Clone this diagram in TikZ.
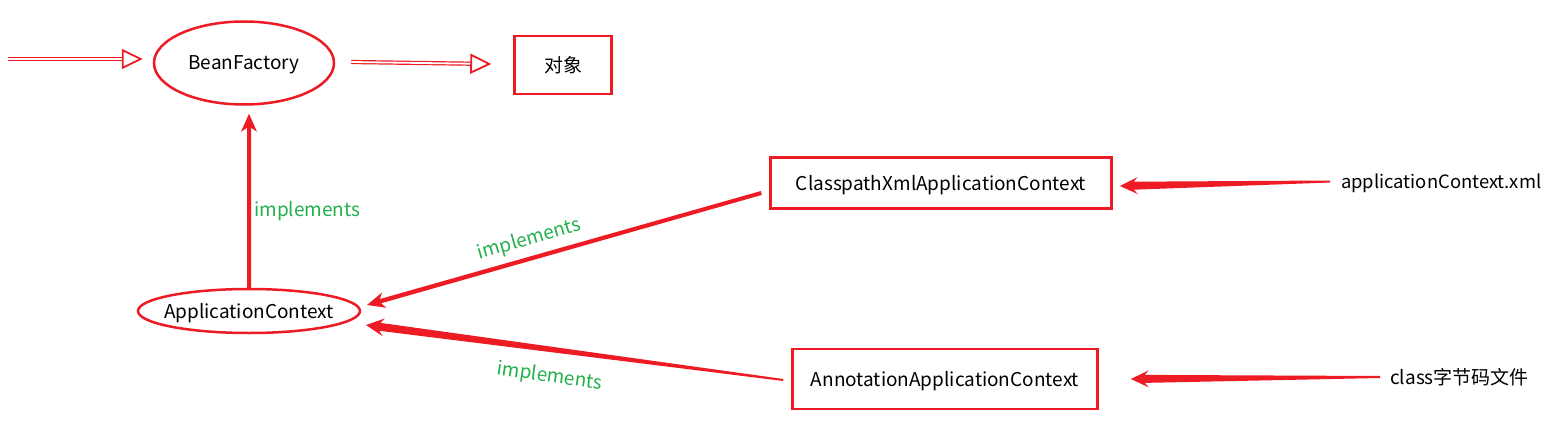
\documentclass[tikz,border=0pt]{standalone}
\usepackage{fontspec}
\setmainfont{Noto Sans CJK SC}
\usetikzlibrary{arrows.meta,shapes.geometric,calc}
\definecolor{pred}{RGB}{237,28,36}
\definecolor{pgreen}{RGB}{34,177,76}
% tapered filled arrow: #1 tail, #2 tip, #3 tail half width, #4 neck half width, #5 head half width
\newcommand\taperarrow[5]{%
  \path ($(#2)!18pt!(#1)$) coordinate (tneck) ($(#2)!14pt!(#1)$) coordinate (tbarb);
  \fill[pred] ($(#1)!#3!90:(tneck)$) -- ($(tbarb)!#4!-90:(#1)$) -- ($(tneck)!#5!-90:(#1)$)
    -- (#2) -- ($(tneck)!#5!90:(#1)$) -- ($(tbarb)!#4!90:(#1)$) -- ($(#1)!#3!-90:(tneck)$) -- cycle;}
\begin{document}
\begin{tikzpicture}[x=1pt,y=-1pt,
  font=\fontsize{19}{22}\selectfont,
  txt/.style={text height=14pt, text depth=0pt},
  ell/.style={ellipse, draw=pred, line width=2.5pt, inner ysep=0pt, inner xsep=-7pt, txt},
  rbox/.style={rectangle, draw=pred, line width=2.5pt, inner sep=0pt, txt},
  hollowarrow/.style={draw=pred, line width=1.2pt, double=white, double distance=1.8pt,
     -{Triangle[open,length=21pt,width=20pt,line width=1.8pt]}},
  lbl/.style={text=pgreen, inner sep=0pt, txt}]
\useasboundingbox (0,0) rectangle (1544,428);
\fill[white] (0,0) rectangle (1544,428);

\node[ell, minimum width=180pt, minimum height=83pt] (bf) at (244,63) {BeanFactory};
\node[rbox, minimum width=97pt, minimum height=58pt] (obj) at (563,65) {对象};
\node[ell, minimum width=222pt, minimum height=44pt] (ac) at (249,311) {ApplicationContext};
\node[rbox, minimum width=341pt, minimum height=51pt] (cx) at (941,183) {ClasspathXmlApplicationContext};
\node[rbox, minimum width=305pt, minimum height=60pt] (an) at (945,379) {AnnotationApplicationContext};
\node[anchor=west, inner sep=0pt, txt, font=\fontsize{18.4}{22}\selectfont] (xml) at (1341,181.5) {applicationContext.xml};
\node[anchor=west, inner sep=0pt, txt] (cls) at (1390,377) {class字节码文件};

% hollow arrows (note: xshift/yshift act on the canvas, where up is positive)
\coordinate (lin) at (8,59);
\draw[hollowarrow] (lin) -- ([xshift=-10pt,yshift=4pt]bf.west);
\draw[hollowarrow] ([xshift=16pt,yshift=1pt]bf.east) -- ([xshift=-22pt,yshift=1pt]obj.west);

% ApplicationContext -> BeanFactory
\path (ac.north) coordinate (vtail) (ac.north |- bf.south) ++(0,8) coordinate (vtip);
\taperarrow{vtail}{vtip}{2pt}{2pt}{8pt}
\node[lbl, anchor=west] (l1) at (254,209) {implements};

% Classpath -> ApplicationContext
\path ([xshift=-8pt,yshift=-10pt]cx.west) coordinate (ctail) ([xshift=118pt,yshift=6pt]ac.center) coordinate (ctip);
\taperarrow{ctail}{ctip}{2pt}{2.2pt}{8pt}
\node[lbl, rotate=16] (l2) at (529,238) {implements};

% Annotation -> ApplicationContext
\path ([xshift=-8pt,yshift=-1pt]an.west) coordinate (atail) ([xshift=117pt,yshift=-14pt]ac.center) coordinate (atip);
\taperarrow{atail}{atip}{1pt}{4pt}{9pt}
\node[lbl, rotate=-8] (l3) at (550,375) {implements};

% xml -> Classpath
\path ([xshift=-11pt]xml.west) coordinate (xtail) ([xshift=7pt,yshift=-3pt]cx.east) coordinate (xtip);
\taperarrow{xtail}{xtip}{1pt}{4pt}{8.5pt}

% class -> Annotation
\path ([xshift=-10pt]cls.west) coordinate (ktail) ([xshift=32pt]an.east) coordinate (ktip);
\taperarrow{ktail}{ktip}{1pt}{4pt}{8.5pt}
\end{tikzpicture}
\end{document}
